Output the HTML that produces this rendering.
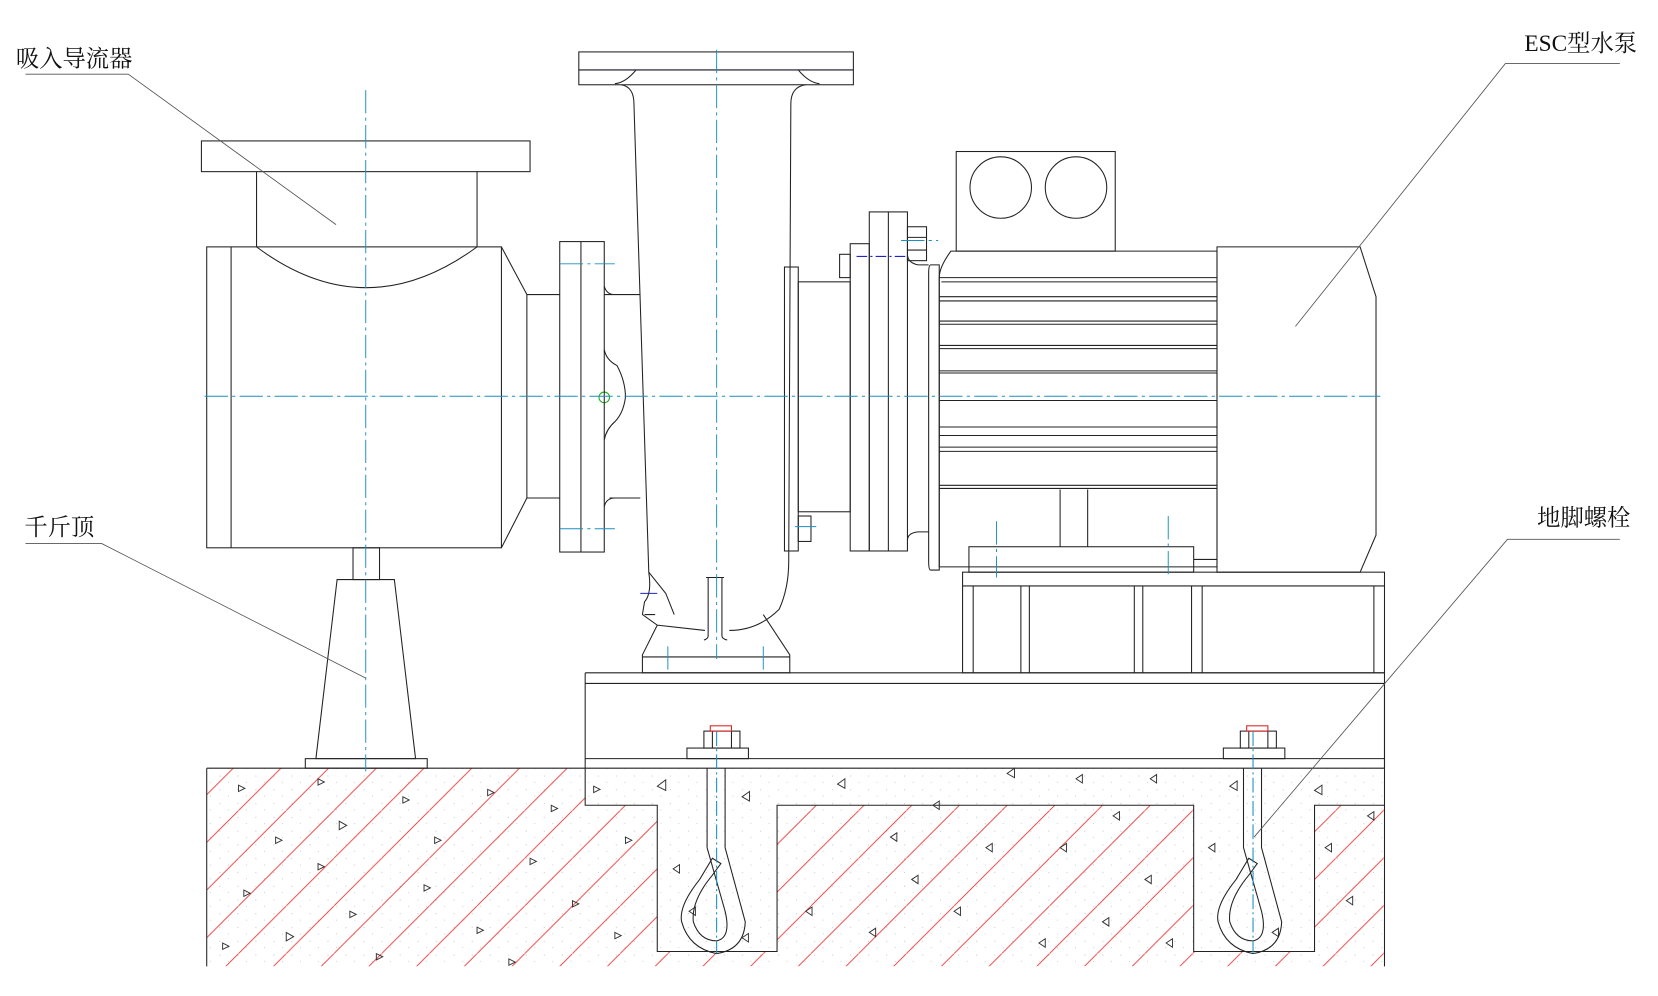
<!DOCTYPE html>
<html><head><meta charset="utf-8"><style>
html,body{margin:0;padding:0;background:#fff;}
svg{display:block;}
text{font-family:"Liberation Serif","Noto Serif CJK SC","Noto Sans CJK SC",serif;fill:#111;}
</style></head><body>
<svg width="1658" height="996" viewBox="0 0 1564 940" preserveAspectRatio="none" xmlns="http://www.w3.org/2000/svg">
<defs>
<pattern id="hatch" patternUnits="userSpaceOnUse" width="45" height="45">
<line x1="-5" y1="50" x2="50" y2="-5" stroke="#e33" stroke-width="0.8"/>
</pattern>
<pattern id="dots" patternUnits="userSpaceOnUse" width="17" height="13">
<rect x="3" y="4" width="0.8" height="0.8" fill="#aaa"/><rect x="11" y="10" width="0.8" height="0.8" fill="#bbb"/>
</pattern>
<clipPath id="hc"><path d="M195 725 H552 V760 H620 V898 H733 V760 H1126 V898 H1240 V760 H1306 V912 H195 Z"/></clipPath>
</defs>
<rect width="1564" height="940" fill="#fff"/>

<!-- concrete -->
<rect x="195" y="725" width="1111" height="187" fill="url(#dots)"/>
<rect x="195" y="725" width="1111" height="187" fill="url(#hatch)" clip-path="url(#hc)"/>
<g fill="none" stroke="#222" stroke-width="1">
<path d="M195 725 H552 M195 725 V912 M1306 645 V912"/>
<path d="M552 725 V760 H620 V898 H733 V760 H1126 V898 H1240 V760 H1306"/>
<path d="M552 725 H1306 M552 716 H1306"/>
</g>
<g fill="none" stroke="#333" stroke-width="0.9">
<path d="M225 741l6 3-6 3z M300 735l6 3-6 3z M260 790l6 3-6 3z M320 775l7 4-7 4z M380 752l6 3-6 3z M410 790l6 3-6 3z M460 745l6 3-6 3z M230 840l6 3-6 3z M270 880l7 4-7 4z M330 860l6 3-6 3z M355 900l6 3-6 3z M400 835l6 3-6 3z M450 875l6 3-6 3z M500 810l6 3-6 3z M540 850l6 3-6 3z M580 880l6 3-6 3z M520 760l6 3-6 3z M590 790l6 3-6 3z M210 890l6 3-6 3z M300 815l6 3-6 3z M480 905l6 3-6 3z M560 742l6 3-6 3z"/>
<path d="M620 742l8-6v10z M700 752l7-5v9z M635 820l6-4v8z M650 860l6-4v8z M790 740l7-5v9z M840 790l6-4v8z M880 760l6-4v8z M950 730l7-5v9z M1000 800l6-4v8z M1050 770l6-4v8z M1080 830l6-4v8z M760 860l6-4v8z M820 880l6-4v8z M900 860l6-4v8z M980 890l6-4v8z M1040 870l6-4v8z M1100 890l6-4v8z M860 830l6-4v8z M930 800l6-4v8z M1160 742l7-5v9z M1140 800l6-4v8z M1200 880l6-4v8z M1250 800l6-4v8z M1270 850l6-4v8z M1290 770l6-4v8z M1240 746l7-5v9z M1085 735l6-4v8z M700 885l6-4v8z M1015 735l6-4v8z"/>
</g>

<!-- bolts -->
<g fill="none" stroke="#222" stroke-width="1">
<g id="bolt">
<rect x="648" y="706" width="58" height="10"/>
<rect x="664" y="690" width="34" height="16"/>
<line x1="672" y1="690" x2="672" y2="706"/><line x1="690" y1="690" x2="690" y2="706"/>
<rect x="670" y="685" width="20" height="5" stroke="#d22"/>
<path d="M667 725 V800 L684 860 Q690 885 676 888 Q660 888 654 870 Q652 850 672 826 L680 815 L672 810 L660 830 Q640 855 643 870 Q650 895 676 900 Q702 896 703 870 L684 800 V725"/>
<line x1="676" y1="690" x2="676" y2="900" stroke="#1a8fc0" stroke-dasharray="14 3 2 3"/>
</g>
<use href="#bolt" x="506"/>
</g>

<!-- base frame -->
<g fill="none" stroke="#222" stroke-width="1">
<path d="M552 635 H1306 V725 M552 635 V725 M552 645 H1306"/>
<rect x="908" y="540" width="398" height="95"/>
<path d="M908 553 H1306 M918 553 V635 M963 553 V635 M971 553 V635 M1070 553 V635 M1078 553 V635 M1124 553 V635 M1134 553 V635 M1296 553 V635"/>
<rect x="914" y="516" width="212" height="24"/>
<path d="M1000 462 V516 M1026 462 V516 M1126 528 H1148"/>
</g>

<!-- motor -->
<g fill="none" stroke="#222" stroke-width="1">
<rect x="902" y="143" width="150" height="94"/>
<circle cx="944" cy="177" r="29"/><circle cx="1015" cy="177" r="29"/>
<path d="M897 237 H1148 V535 H886 V262 Q886 252 897 237 Z"/>
<path d="M878 250 H886 V538 H878 Q876 538 876 530 V258 Q876 250 878 250 Z"/>
<path d="M886 262 H1148 M888 266 H1148 M886 280 H1148 M886 284 H1148 M886 303 H1148 M886 306 H1148 M886 326 H1148 M886 329 H1148 M886 350 H1148 M886 352 H1148 M886 378 H1148 M886 403 H1148 M886 411 H1148 M886 422 H1148 M886 426 H1148 M886 458 H1148 M886 461 H1148"/>
<path d="M1148 233 H1283 L1298 280 V505 L1283 540 H1148 Z"/>
<!-- motor flange -->
<rect x="820" y="200" width="36" height="320"/><line x1="838" y1="200" x2="838" y2="520"/>
<rect x="802" y="230" width="18" height="290"/>
<path d="M856 240 Q856 248 866 250 H876 M856 510 Q856 503 866 502 H876"/>
<rect x="753" y="266" width="49" height="217"/>
<rect x="740" y="252" width="13" height="268"/>
<rect x="856" y="214" width="18" height="32"/><line x1="856" y1="224" x2="874" y2="224"/><line x1="856" y1="236" x2="874" y2="236"/>
<rect x="792" y="240" width="10" height="22"/>
<rect x="753" y="487" width="12" height="24"/>
</g>

<!-- pump volute -->
<g fill="none" stroke="#222" stroke-width="1">
<rect x="546" y="49" width="259" height="31"/>
<path d="M546 66 H805" stroke="#112"/>
<path d="M600 66 Q590 78 580 79 M753 66 Q763 78 773 79"/>
<path d="M586 80 Q598 82 598 98 L612 540 Q615 560 608 568 L606 580 L620 590 L665 595 M688 595 Q715 595 735 575 Q744 555 744 530 L746 98 Q746 82 760 80"/>
<path d="M666 545 H683 M668 545 V600 Q668 603 664 604 M681 545 V600 Q681 603 686 604"/>
<path d="M612 540 L628 560 L636 580 M608 580 L618 580"/>
<path d="M620 590 L606 618 V635 H745 V618 L720 580 M606 620 H745"/>
<path d="M570 278 L604 278 M575 470 L604 470 M570 270 Q572 278 580 278 M570 478 Q572 470 580 470"/>
<path d="M570 330 Q572 340 582 345 Q590 360 590 375 Q588 390 580 398 Q572 405 570 415"/>
<circle cx="570" cy="375" r="5" stroke="#2a2"/>
<!-- casing flange -->
<rect x="528" y="228" width="42" height="293"/><line x1="548" y1="228" x2="548" y2="521"/>
<path d="M497 278 H528 M497 470 H528"/>
</g>

<!-- suction -->
<g fill="none" stroke="#222" stroke-width="1">
<rect x="190" y="133" width="310" height="29"/>
<path d="M242 162 V233 M450 162 V233"/>
<rect x="195" y="233" width="278" height="284"/>
<line x1="218" y1="233" x2="218" y2="517"/>
<path d="M242 233 Q345 310 450 233"/>
<path d="M473 233 L497 278 V470 L473 517"/>
<!-- jack -->
<rect x="333" y="517" width="25" height="30"/>
<path d="M318 547 H372 L392 716 H298 Z"/>
<rect x="288" y="716" width="115" height="9"/>
</g>

<!-- centerlines -->
<g fill="none" stroke="#1a8fc0" stroke-width="0.9" stroke-dasharray="22 4 3 4">
<line x1="193" y1="374" x2="1302" y2="374"/>
<line x1="345" y1="85" x2="345" y2="728"/>
<line x1="676" y1="47" x2="676" y2="622"/>
<line x1="528" y1="249" x2="580" y2="249"/><line x1="528" y1="499" x2="580" y2="499"/>
<line x1="940" y1="492" x2="940" y2="545"/><line x1="1102" y1="487" x2="1102" y2="545"/>
<line x1="630" y1="610" x2="630" y2="636"/><line x1="720" y1="610" x2="720" y2="636"/>
<line x1="850" y1="227" x2="885" y2="227"/><line x1="750" y1="497" x2="770" y2="497"/>
</g>
<line x1="808" y1="242" x2="856" y2="242" stroke="#22c" stroke-dasharray="10 3 2 3"/>
<line x1="604" y1="560" x2="620" y2="560" stroke="#22c"/>

<!-- leaders -->
<g stroke="#555" stroke-width="0.8" fill="none">
<path d="M24 70 H121 L317 212"/>
<path d="M24 513 H96 L345 640"/>
<path d="M1528 60 H1420 L1222 308"/>
<path d="M1528 509 H1422 L1183 790"/>
</g>
<text x="15" y="63" font-size="22">吸入导流器</text>
<text x="23" y="505" font-size="22">千斤顶</text>
<text x="1438" y="48" font-size="22">ESC型水泵</text>
<text x="1450" y="496" font-size="22">地脚螺栓</text>
</svg>
</body></html>
